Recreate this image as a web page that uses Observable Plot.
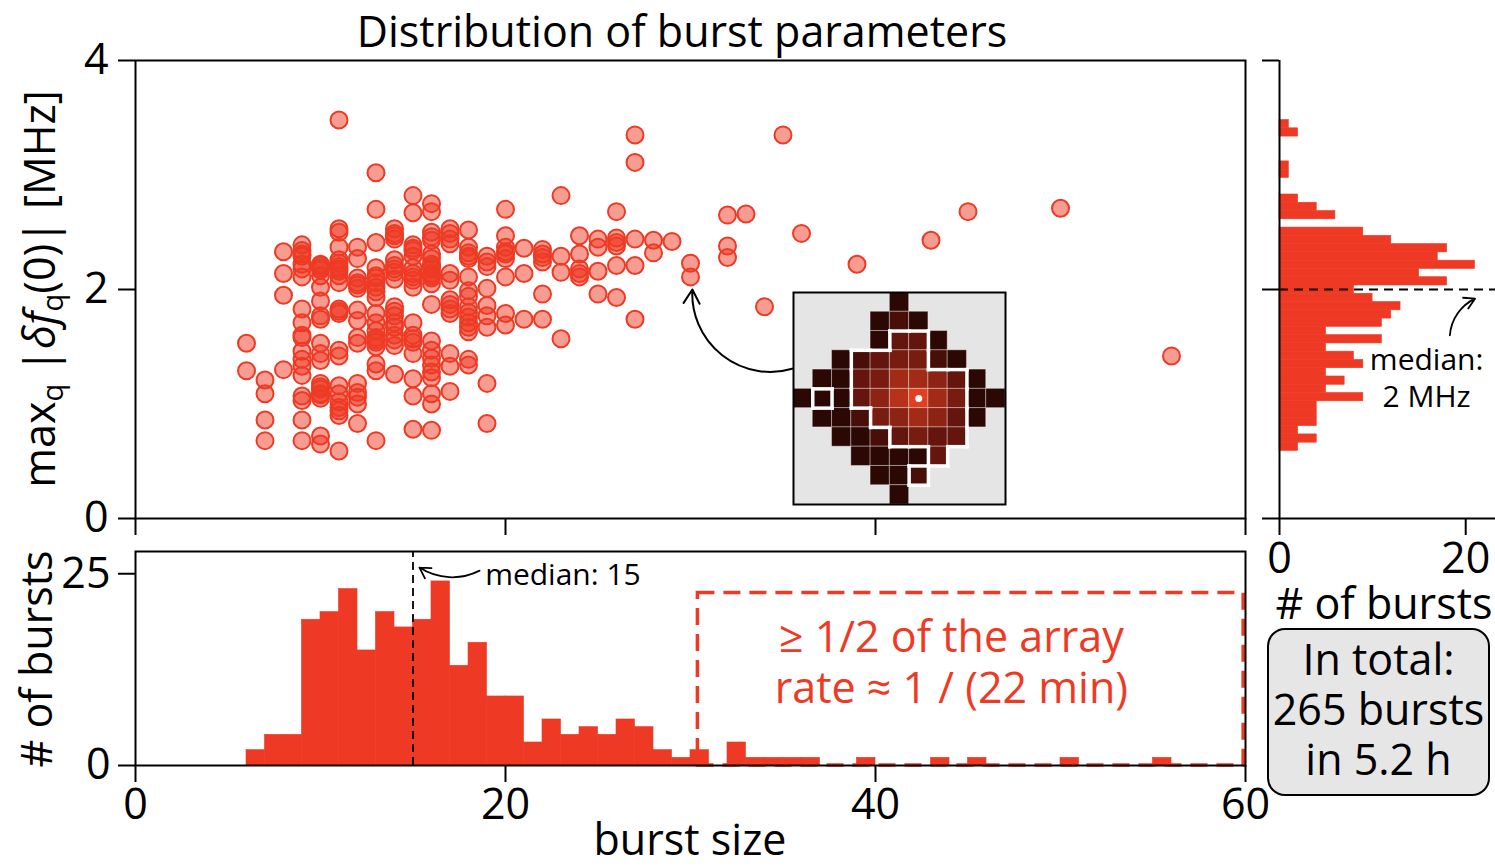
<!DOCTYPE html>
<html><head><meta charset="utf-8">
<script src="https://cdn.jsdelivr.net/npm/d3@7"></script>
<script src="https://cdn.jsdelivr.net/npm/@observablehq/plot@0.6"></script>
<style>
body{margin:0;background:#fff;font-family:"Open Sans",sans-serif;}
#wrap{position:relative;width:1495px;height:866px;overflow:hidden;background:#fff;}
#wrap svg{position:absolute;overflow:visible;}
.lbl{position:absolute;white-space:nowrap;color:#000;line-height:1;}
.lbl sub{font-size:0.68em;vertical-align:-0.28em;}
#totalbox{position:absolute;left:1267px;top:628px;width:219px;height:160px;border:2px solid #000;border-radius:18px;background:#e6e6e6;font-size:43px;line-height:50px;text-align:center;padding-top:4px;box-sizing:content-box;}
</style></head><body><div id="wrap"></div>
<script>
// ---------------- data ----------------
const FONT = "Open Sans";
const RED = "#ee3a24";
const FS = 43;

// scatter: [burst size, [max frequency shift values in MHz]]
const scatterColumns = [
  [6, [1.53, 1.29]],
  [7, [1.21, 1.09, 0.86, 0.68]],
  [8, [2.33, 2.14, 1.95, 1.30]],
  [9, [2.39, 2.34, 2.31, 2.29, 2.22, 2.18, 2.11, 1.83, 1.71, 1.60, 1.58, 1.46, 1.39, 1.33, 1.25, 1.07, 1.03, 0.86, 0.68]],
  [10, [2.22, 2.21, 2.19, 2.17, 2.12, 2.02, 1.90, 1.77, 1.74, 1.53, 1.44, 1.38, 1.18, 1.15, 1.13, 1.09, 1.08, 1.05, 0.72, 0.65]],
  [11, [3.48, 2.53, 2.50, 2.37, 2.26, 2.23, 2.20, 2.18, 2.16, 2.12, 2.06, 1.83, 1.81, 1.79, 1.47, 1.42, 1.16, 1.09, 1.02, 0.97, 0.94, 0.90, 0.59]],
  [12, [2.37, 2.27, 2.10, 2.06, 2.04, 2.01, 1.82, 1.73, 1.58, 1.53, 1.18, 1.10, 1.06, 1.00, 0.83]],
  [13, [3.02, 2.70, 2.41, 2.19, 2.12, 2.10, 2.06, 2.02, 1.98, 1.93, 1.79, 1.71, 1.64, 1.58, 1.56, 1.54, 1.50, 1.35, 1.29, 0.68]],
  [14, [2.53, 2.49, 2.47, 2.44, 2.26, 2.21, 2.18, 2.15, 2.09, 1.85, 1.81, 1.77, 1.71, 1.67, 1.60, 1.56, 1.51, 1.26]],
  [15, [2.82, 2.67, 2.39, 2.36, 2.34, 2.29, 2.19, 2.14, 2.11, 2.08, 2.02, 1.71, 1.60, 1.57, 1.54, 1.44, 1.22, 1.07, 0.78]],
  [16, [2.75, 2.68, 2.50, 2.46, 2.43, 2.31, 2.27, 2.22, 2.20, 2.18, 2.14, 2.12, 2.10, 2.05, 1.87, 1.55, 1.47, 1.40, 1.34, 1.28, 1.23, 1.09, 1.00, 0.77]],
  [17, [2.53, 2.49, 2.44, 2.40, 2.14, 2.08, 1.91, 1.87, 1.83, 1.79, 1.44, 1.33, 1.11]],
  [18, [2.52, 2.37, 2.32, 2.29, 2.27, 2.11, 1.99, 1.94, 1.85, 1.80, 1.76, 1.71, 1.67, 1.63, 1.39, 1.34]],
  [19, [2.29, 2.24, 2.20, 2.01, 1.86, 1.77, 1.67, 1.18, 0.83]],
  [20, [2.70, 2.47, 2.37, 2.33, 2.31, 2.27, 2.11, 1.79, 1.69]],
  [21, [2.36, 2.14, 1.74]],
  [22, [2.35, 2.31, 2.28, 2.24, 1.96, 1.74]],
  [23, [2.82, 2.29, 2.15, 1.57]],
  [24, [2.47, 2.31, 2.18, 2.14, 2.11]],
  [25, [2.44, 2.37, 2.16, 1.96]],
  [26, [2.68, 2.45, 2.41, 2.38, 2.21, 1.93]],
  [27, [3.35, 3.11, 2.44, 2.21, 1.74]],
  [28, [2.43, 2.32]],
  [29, [2.42]],
  [30, [2.23, 2.11]],
  [32, [2.65, 2.38, 2.28]],
  [33, [2.66]],
  [34, [1.85]],
  [35, [3.35]],
  [36, [2.49]],
  [39, [2.22]],
  [43, [2.43]],
  [45, [2.68]],
  [50, [2.71]],
  [56, [1.42]]
];

// bottom histogram: burst size bins [n, n+1)
const sizeBinStart = d3.range(6, 56);
const sizeCounts = [2,4,4,19,20,23,15,20,18,19,24,13,16,9,9,3,6,4,5,4,6,5,2,1,2,0,3,1,1,1,1,0,0,1,0,0,0,1,0,1,0,0,0,0,1,0,0,0,0,1];

// right histogram: 40 equal bins of max shift (bottom to top)
const shiftRange = [0.59, 3.48];
const shiftCounts = [2,4,2,4,4,4,9,5,7,5,9,8,5,11,5,11,12,13,10,8,18,15,21,17,18,12,9,0,6,4,2,0,0,1,1,0,0,0,2,1];

const xTicks = [0, 20, 40, 60];
const yTicks = [0, 2, 4];
const countTicks = [0, 25];
const rightTicks = [0, 20];
const medianSize = 15;
const medianShift = 2;

// inset: 11x11 pixel grid, brightness levels (0 = none) and cluster ids
const insetLevels = [
  [0,0,0,0,0,1,0,0,0,0,0],
  [0,0,0,0,1,2,1,0,0,0,0],
  [0,0,0,0,1,3,3,1,0,0,0],
  [0,0,1,2,3,4,4,2,1,0,0],
  [0,1,1,3,4,6,6,5,3,1,0],
  [1,1,1,3,5,7,9,6,4,1,1],
  [0,1,1,2,4,5,6,5,3,1,0],
  [0,0,1,1,2,3,4,3,3,0,0],
  [0,0,0,1,1,1,1,3,0,0,0],
  [0,0,0,0,1,1,2,0,0,0,0],
  [0,0,0,0,0,1,0,0,0,0,0]
];
const insetCluster = [
  [0,0,0,0,0,0,0,0,0,0,0],
  [0,0,0,0,0,0,0,0,0,0,0],
  [0,0,0,0,0,1,1,0,0,0,0],
  [0,0,0,1,1,1,1,0,0,0,0],
  [0,0,0,1,1,1,1,1,1,0,0],
  [0,2,0,1,1,1,1,1,1,0,0],
  [0,0,0,0,1,1,1,1,1,0,0],
  [0,0,0,0,0,1,1,1,1,0,0],
  [0,0,0,0,0,0,0,1,0,0,0],
  [0,0,0,0,0,0,3,0,0,0,0],
  [0,0,0,0,0,0,0,0,0,0,0]
];
const insetCenter = [6, 5];

// annotation anchors (data coordinates)
const insetArrow = [{x1: 35.55, y1: 1.31, x2: 30.1, y2: 2.0}];
const sizeMedianArrow = [{x1: 18.6, y1: 25.4, x2: 15.35, y2: 25.8}];
const shiftMedianArrow = [{x1: 18.3, y1: 1.6, x2: 21.0, y2: 1.92}];
const rateBox = [{x1: 30.4, x2: 59.9, y1: 0, y2: 22.5}];
const rateText = [{x: 44.1, y: 16.6, t: "≥ 1/2 of the array"}, {x: 44.1, y: 9.9, t: "rate ≈ 1 / (22 min)"}];
const shiftMedianText = [{x: 15.8, y: 1.38, t: "median:"}, {x: 15.8, y: 1.06, t: "2 MHz"}];

// ---------------- build ----------------
const wrap = document.getElementById("wrap");
const points = scatterColumns.flatMap(([s, ys]) => ys.map(v => ({size: s, shift: v})));
const sizeBins = sizeBinStart.map((b, i) => ({x1: b, x2: b + 1, n: sizeCounts[i]}));
const bw = (shiftRange[1] - shiftRange[0]) / shiftCounts.length;
const shiftBins = shiftCounts.map((n, i) => ({y1: shiftRange[0] + i * bw, y2: shiftRange[0] + (i + 1) * bw, n}));

function place(svg, left, top) {
  svg.style.left = left + "px";
  svg.style.top = top + "px";
  wrap.appendChild(svg);
}
const baseStyle = {fontFamily: FONT, fontSize: FS + "px", background: "transparent", overflow: "visible", color: "#000"};
const intFmt = d3.format("d");

// main scatter
const scatter = Plot.plot({
  width: 1260, height: 560,
  marginLeft: 135, marginRight: 15, marginTop: 60, marginBottom: 42,
  x: {domain: [0, 60]}, y: {domain: [0, 4]},
  style: baseStyle,
  marks: [
    Plot.axisY({ticks: yTicks, tickFormat: intFmt, tickSize: 17, tickPadding: 10, strokeWidth: 2, fontSize: FS, label: null}),
    Plot.axisX({ticks: xTicks, tickSize: 17, tickFormat: () => "", strokeWidth: 2, label: null}),
    Plot.dot(points, {x: "size", y: "shift", r: 8.5, fill: RED, fillOpacity: 0.5, stroke: RED, strokeWidth: 2}),
    Plot.arrow(insetArrow, {x1: "x1", y1: "y1", x2: "x2", y2: "y2", bend: 55, headLength: 12, stroke: "#000", strokeWidth: 2}),
    Plot.frame({strokeWidth: 2})
  ]
});
place(scatter, 0, 0);

// bottom histogram
const bottom = Plot.plot({
  width: 1260, height: 366,
  marginLeft: 135, marginRight: 15, marginTop: 51, marginBottom: 101,
  x: {domain: [0, 60]}, y: {domain: [0, 27.9]},
  style: baseStyle,
  marks: [
    Plot.rect(sizeBins, {x1: "x1", x2: "x2", y1: 0, y2: "n", fill: RED, stroke: RED, strokeWidth: 0.6, inset: 0}),
    Plot.ruleX([medianSize], {y1: 0, y2: 27.9, stroke: "#000", strokeWidth: 1.8, strokeDasharray: "8,5"}),
    Plot.rect(rateBox, {x1: "x1", x2: "x2", y1: "y1", y2: "y2", fill: "none", stroke: RED, strokeWidth: 3.5, strokeDasharray: "17,9", inset: 0}),
    Plot.text(rateText, {x: "x", y: "y", text: "t", fill: RED, fontSize: FS}),
    Plot.arrow(sizeMedianArrow, {x1: "x1", y1: "y1", x2: "x2", y2: "y2", bend: 30, headLength: 10, stroke: "#000", strokeWidth: 1.8}),
    Plot.text(["median: 15"], {x: 18.9, y: 24.8, text: d => d, textAnchor: "start", fontSize: 30}),
    Plot.axisY({ticks: countTicks, tickFormat: intFmt, tickSize: 17, tickPadding: 8, strokeWidth: 2, fontSize: FS, label: null}),
    Plot.axisX({ticks: xTicks, tickFormat: intFmt, tickSize: 17, tickPadding: 6, strokeWidth: 2, fontSize: FS, label: null}),
    Plot.frame({strokeWidth: 2})
  ]
});
place(bottom, 0, 500);

// right histogram
const right = Plot.plot({
  width: 255, height: 560,
  marginLeft: 39, marginRight: 0, marginTop: 60, marginBottom: 42,
  x: {domain: [0, 23.2]}, y: {domain: [0, 4]},
  style: baseStyle,
  marks: [
    Plot.rect(shiftBins, {y1: "y1", y2: "y2", x1: 0, x2: "n", fill: RED, stroke: RED, strokeWidth: 0.6, inset: 0}),
    Plot.ruleY([medianShift], {x1: 0, x2: 23.2, stroke: "#000", strokeWidth: 1.8, strokeDasharray: "9,6"}),
    Plot.arrow(shiftMedianArrow, {x1: "x1", y1: "y1", x2: "x2", y2: "y2", bend: 30, headLength: 10, stroke: "#000", strokeWidth: 1.8}),
    Plot.text(shiftMedianText, {x: "x", y: "y", text: "t", fontSize: 30}),
    Plot.ruleX([0], {strokeWidth: 2}),
    Plot.ruleY([0], {strokeWidth: 2}),
    Plot.axisY({ticks: yTicks, tickSize: 17, tickFormat: () => "", strokeWidth: 2, label: null}),
    Plot.axisX({ticks: rightTicks, tickFormat: intFmt, tickSize: 17, tickPadding: 7, strokeWidth: 2, fontSize: FS, label: null})
  ]
});
place(right, 1240, 0);

// inset image
const cells = [];
const edges = [];
insetLevels.forEach((row, r) => row.forEach((lv, c) => {
  if (lv > 0) cells.push({c, r, lv});
  const id = insetCluster[r][c];
  if (id > 0) {
    const nb = (rr, cc) => (rr < 0 || rr > 10 || cc < 0 || cc > 10) ? 0 : insetCluster[rr][cc];
    if (nb(r - 1, c) !== id) edges.push({x1: c, y1: r, x2: c + 1, y2: r});
    if (nb(r + 1, c) !== id) edges.push({x1: c, y1: r + 1, x2: c + 1, y2: r + 1});
    if (nb(r, c - 1) !== id) edges.push({x1: c, y1: r, x2: c, y2: r + 1});
    if (nb(r, c + 1) !== id) edges.push({x1: c + 1, y1: r, x2: c + 1, y2: r + 1});
  }
}));
const levelColor = d3.scaleLinear().domain([1, 3, 9]).range(["#2c0805", "#64150d", "#e0401f"]);
const inset = Plot.plot({
  width: 212, height: 212,
  margin: 0,
  x: {domain: [0, 11], axis: null}, y: {domain: [0, 11], axis: null, reverse: true},
  style: {background: "transparent", overflow: "visible"},
  marks: [
    Plot.frame({fill: "#e5e5e5"}),
    Plot.rect(cells, {x1: "c", x2: d => d.c + 1, y1: "r", y2: d => d.r + 1, fill: d => levelColor(d.lv), stroke: "rgba(255,255,255,0.35)", strokeWidth: 1, inset: 0}),
    Plot.link(edges, {x1: "x1", y1: "y1", x2: "x2", y2: "y2", stroke: "#fff", strokeWidth: 3.5, strokeLinecap: "square"}),
    Plot.dot([insetCenter], {x: d => d[0] + 0.5, y: d => d[1] + 0.5, r: 3.5, fill: "#fff"}),
    Plot.frame({stroke: "#000", strokeWidth: 2})
  ]
});
place(inset, 793, 292);

// text labels
function label(html, x, y, size, rot, color) {
  const d = document.createElement("div");
  d.className = "lbl";
  d.innerHTML = html;
  d.style.left = x + "px";
  d.style.top = y + "px";
  d.style.fontSize = size + "px";
  d.style.fontFamily = FONT;
  if (color) d.style.color = color;
  d.style.transform = "translate(-50%,-50%)" + (rot ? " rotate(-90deg)" : "");
  wrap.appendChild(d);
}
label("Distribution of burst parameters", 682, 30, FS);
label("max<sub>q</sub> |<i>δf</i><sub>q</sub>(0)| [MHz]", 42, 289, FS, true);
label("# of bursts", 35, 659, FS, true);
label("burst size", 690, 838, FS);
label("# of bursts", 1384, 602, FS);
const box = document.createElement("div");
box.id = "totalbox";
box.innerHTML = "In total:<br>265 bursts<br>in 5.2 h";
wrap.appendChild(box);
</script></body></html>
